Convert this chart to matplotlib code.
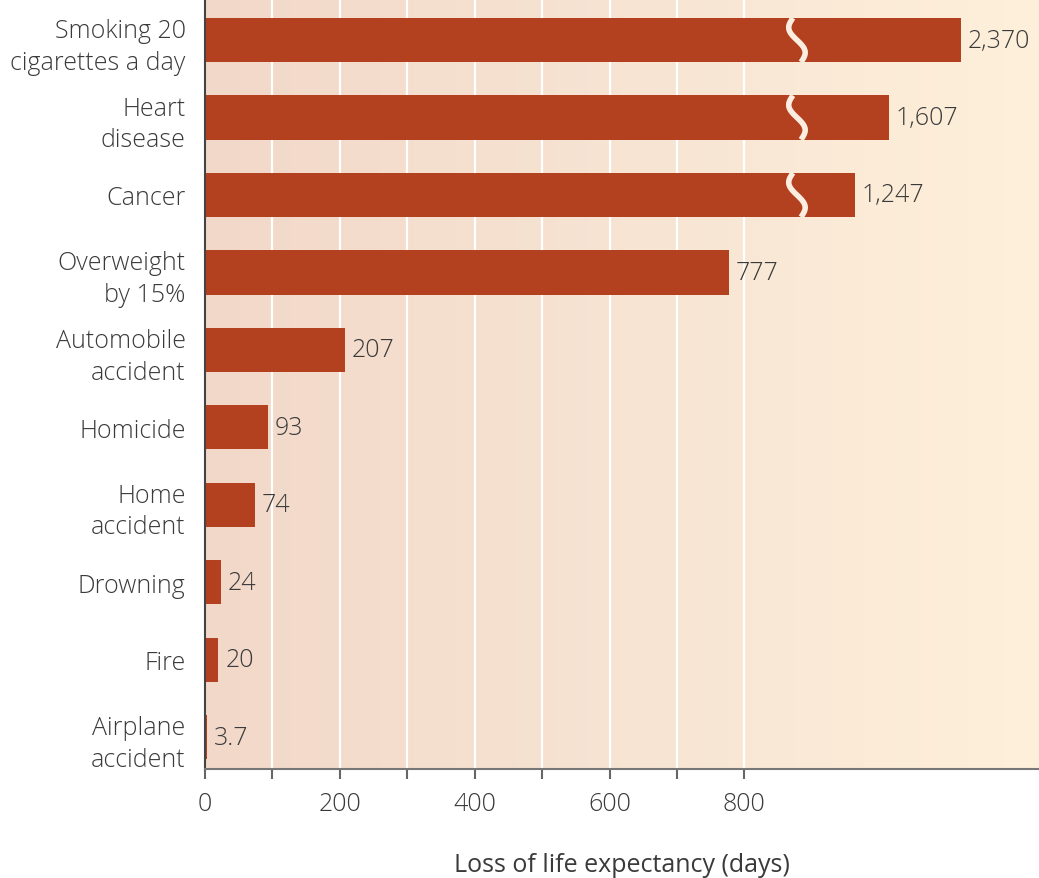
import numpy as np
import matplotlib.pyplot as plt
from matplotlib.colors import LinearSegmentedColormap

# Data
categories = ["Smoking 20\ncigarettes a day", "Heart\ndisease", "Cancer",
              "Overweight\nby 15%", "Automobile\naccident", "Homicide",
              "Home\naccident", "Drowning", "Fire", "Airplane\naccident"]
days = [2370, 1607, 1247, 777, 207, 93, 74, 24, 20, 3.7]
value_labels = ["2,370", "1,607", "1,247", "777", "207", "93", "74", "24", "20", "3.7"]
x_ticks = list(range(0, 900, 100))
x_ticklabels = [str(t) if t % 200 == 0 else "" for t in x_ticks]

# broken axis: long bars are squeezed past the break
BREAK_FROM = 1000
BREAK_POS = 878


def shown(v):
    return v if v < BREAK_FROM else 790 + 0.14 * v


plt.rcParams['font.family'] = ['Open Sans', 'DejaVu Sans']
plt.rcParams['font.weight'] = 'light'
text_color = '#3a3a3a'
bar_color = '#b3401f'
fs = 18

fig = plt.figure(figsize=(10.39, 8.79), dpi=100)
ax = fig.add_axes([0.1973, 0.124, 0.8027, 0.876])

xmax = 1237
ytop, ybot = -0.53, 9.41

# warm gradient background
grad = np.linspace(0, 1, 256).reshape(1, -1)
cmap = LinearSegmentedColormap.from_list('bg', ['#f2d8c9', '#f7e4d3', '#fef0da'])
ax.imshow(grad, extent=[0, xmax, ybot, ytop], aspect='auto', cmap=cmap, zorder=0)

for x in x_ticks[1:]:
    ax.axvline(x, color='white', lw=1.6, zorder=1)

y = np.arange(len(categories))
lengths = [shown(v) for v in days]
bar_h = 0.57
ax.barh(y, lengths, height=bar_h, color=bar_color, zorder=2)

# white S-shaped break marks
t = np.linspace(0, 1, 80)
for i, v in enumerate(days):
    if v >= BREAK_FROM:
        yy = i - bar_h / 2 + bar_h * t
        xx = BREAK_POS - 9 * np.sin(2 * np.pi * t) + 12 * (t - 0.5)
        ax.plot(xx, yy, color='#fbeee0', lw=4, zorder=3, solid_capstyle='butt')

for i, (L, lab) in enumerate(zip(lengths, value_labels)):
    ax.text(L + 10, i, lab, va='center', ha='left', fontsize=fs, color=text_color, zorder=4)

ax.set_xlim(0, xmax)
ax.set_ylim(ybot, ytop)
ax.set_yticks(y)
ax.set_yticklabels(categories, fontsize=fs, color=text_color, linespacing=1.35)
ax.tick_params(axis='y', length=0, pad=14)
ax.set_xticks(x_ticks)
ax.set_xticklabels(x_ticklabels, fontsize=fs, color=text_color)
ax.tick_params(axis='x', length=7, width=1.5, color='#666666', pad=9)
ax.set_xlabel("Loss of life expectancy (days)", fontsize=fs, color=text_color, labelpad=26)

for s in ['top', 'right']:
    ax.spines[s].set_visible(False)
ax.spines['left'].set_color('#444444')
ax.spines['left'].set_linewidth(1.5)
ax.spines['bottom'].set_color('#777777')
ax.spines['bottom'].set_linewidth(1.5)

fig.savefig('out.png', dpi=100)
